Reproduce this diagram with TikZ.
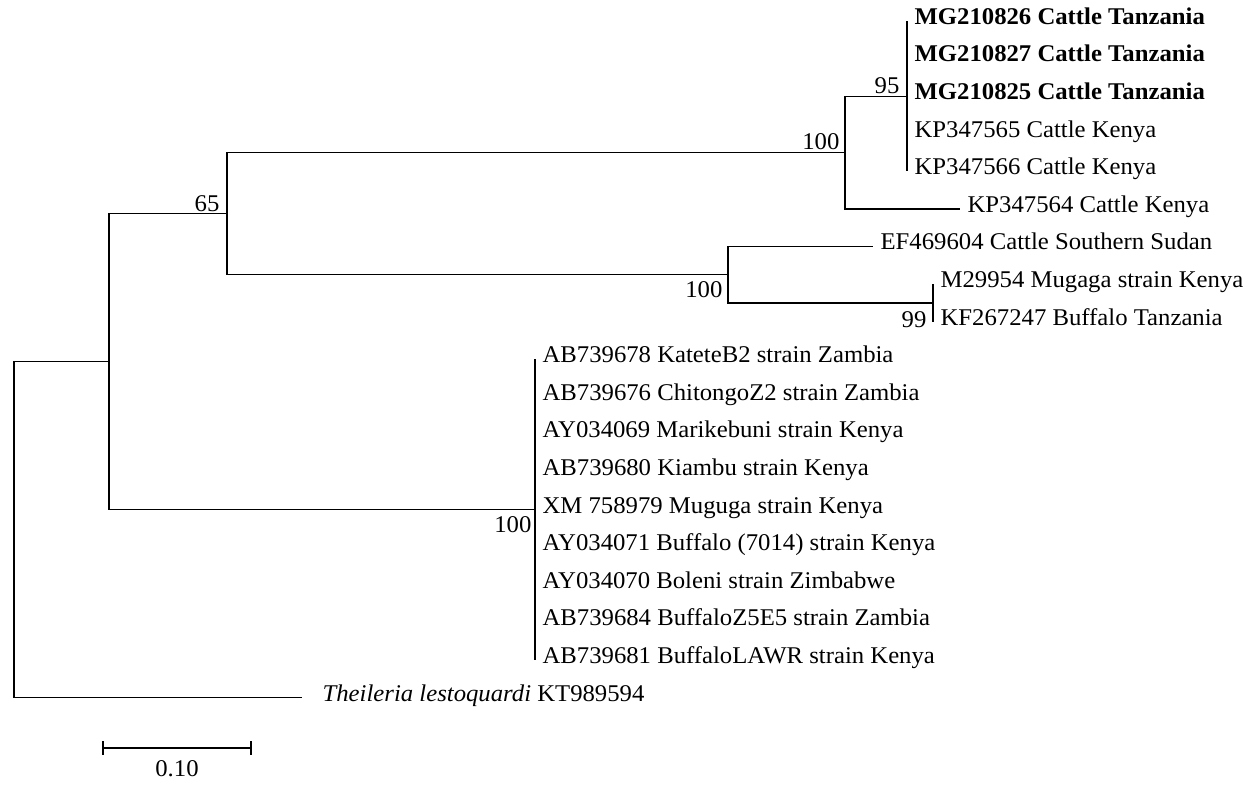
\documentclass[tikz,border=0pt]{standalone}
\usepackage{fontspec}
\setmainfont[FakeStretch=1.03]{Liberation Serif}
\begin{document}
\begin{tikzpicture}[x=1pt,y=-1pt,line width=1.2pt,
  lab/.style={font=\fontsize{24}{28}\selectfont, text height=0.662em, text depth=0pt},
  leaf/.style={lab, anchor=west, inner xsep=7pt, inner ysep=0pt},
  leafb/.style={leaf, font=\fontsize{24}{28}\selectfont\bfseries},
  boot/.style={lab, inner sep=0pt},
  branch/.style={draw=black}]
\useasboundingbox (0,0) rectangle (1249,784);
% internal nodes
\coordinate (root) at (14,529.8);
\coordinate (nA) at (109,361.75);
\coordinate (nB) at (227,213.7);
\coordinate (nC) at (845,152.6);
\coordinate (nD) at (907,96.2);
\coordinate (nE) at (728,274.8);
\coordinate (nF) at (933,303);
\coordinate (nG) at (535,509.8);
% leaves
\node[leafb] (l0) at (907,21) {MG210826 Cattle Tanzania};
\node[leafb] (l1) at (907,58.6) {MG210827 Cattle Tanzania};
\node[leafb] (l2) at (907,96.2) {MG210825 Cattle Tanzania};
\node[leaf] (l3) at (907,133.8) {KP347565 Cattle Kenya};
\node[leaf] (l4) at (907,171.4) {KP347566 Cattle Kenya};
\node[leaf] (l5) at (960,209) {KP347564 Cattle Kenya};
\node[leaf] (l6) at (873,246.6) {EF469604 Cattle Southern Sudan};
\node[leaf] (l7) at (933,284.2) {M29954 Mugaga strain Kenya};
\node[leaf] (l8) at (933,321.8) {KF267247 Buffalo Tanzania};
\node[leaf] (l9) at (535,359.4) {AB739678 KateteB2 strain Zambia};
\node[leaf] (l10) at (535,397) {AB739676 ChitongoZ2 strain Zambia};
\node[leaf] (l11) at (535,434.6) {AY034069 Marikebuni strain Kenya};
\node[leaf] (l12) at (535,472.2) {AB739680 Kiambu strain Kenya};
\node[leaf] (l13) at (535,509.8) {XM 758979 Muguga strain Kenya};
\node[leaf] (l14) at (535,547.4) {AY034071 Buffalo (7014) strain Kenya};
\node[leaf] (l15) at (535,585) {AY034070 Boleni strain Zimbabwe};
\node[leaf] (l16) at (535,622.6) {AB739684 BuffaloZ5E5 strain Zambia};
\node[leaf] (l17) at (535,660.2) {AB739681 BuffaloLAWR strain Kenya};
\node[leaf, inner xsep=20pt] (l18) at (302,697.8) {\textit{Theileria lestoquardi} KT989594};
% branches
\draw[branch] (root) |- (nA);
\draw[branch] (root) |- (l18.west);
\draw[branch] (nA) |- (nB);
\draw[branch] (nA) |- (nG);
\draw[branch] (nB) |- (nC);
\draw[branch] (nB) |- (nE);
\draw[branch] (nC) |- (nD);
\draw[branch] (nC) |- (l5.west);
\foreach \i in {0,...,4} {\draw[branch] (nD) |- (l\i.west);}
\draw[branch] (nE) |- (l6.west);
\draw[branch] (nE) |- (nF);
\draw[branch] (nF) |- (l7.west);
\draw[branch] (nF) |- (l8.west);
\foreach \i in {9,...,17} {\draw[branch] (nG) |- (l\i.west);}
% bootstrap values
\node[boot, anchor=south east] (b65) at ([xshift=-7pt,yshift=2pt]nB) {65};
\node[boot, anchor=south east] (bC) at ([xshift=-5pt,yshift=2.5pt]nC) {100};
\node[boot, anchor=south east] (bD) at ([xshift=-7pt,yshift=2pt]nD) {95};
\node[boot, anchor=north east] (bE) at ([xshift=-5pt,yshift=-15pt]nE) {100};
\node[boot, anchor=north east] (bF) at ([xshift=-6pt,yshift=-17pt]nF) {99};
\node[boot, anchor=north east] (bG) at ([xshift=-3pt,yshift=-15pt]nG) {100};
% scale bar
\coordinate (sb1) at (103,748);
\coordinate (sb2) at (251,748);
\draw[branch] (sb1) -- (sb2);
\draw[branch] ([yshift=7pt]sb1) -- ([yshift=-7pt]sb1);
\draw[branch] ([yshift=7pt]sb2) -- ([yshift=-7pt]sb2);
\node[boot] (sbl) at (177,773) {0.10};
\end{tikzpicture}
\end{document}
